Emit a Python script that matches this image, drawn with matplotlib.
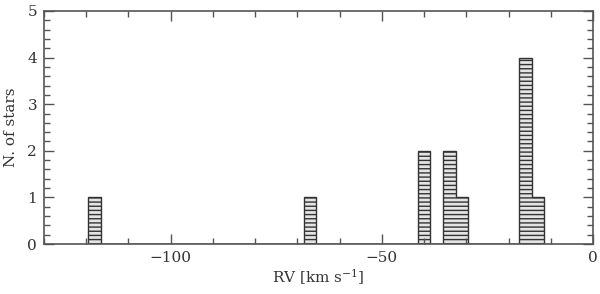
import numpy as np
import matplotlib
matplotlib.use("Agg")
import matplotlib.pyplot as plt
from matplotlib.ticker import MultipleLocator

# Radial velocities of stars (km/s)
rv_values = [-118, -67, -40, -40, -34, -34, -31, -16, -16, -16, -16, -13]
bin_start = -119.5
bin_stop = -11.5
bin_width = 3

x_limits = (-130, 0)
y_limits = (0, 5)
x_label = "RV [km s$^{-1}$]"
y_label = "N. of stars"

plt.rcParams['font.family'] = ['DejaVu Serif']
plt.rcParams['mathtext.fontset'] = 'dejavuserif'
plt.rcParams['hatch.linewidth'] = 1.0
plt.rcParams['hatch.color'] = '#222222'

fig = plt.figure(figsize=(6.0, 2.94), dpi=100)
ax = fig.add_axes([0.0733, 0.170, 0.915, 0.7926])

edges = np.arange(bin_start, bin_stop + bin_width / 2, bin_width)
ax.hist(rv_values, bins=edges, histtype='stepfilled', facecolor='#e4e4e4',
        edgecolor='#333333', hatch='----', linewidth=1.0)

ax.set_xlim(*x_limits)
ax.set_ylim(*y_limits)
ax.xaxis.set_major_locator(MultipleLocator(50))
ax.xaxis.set_minor_locator(MultipleLocator(10))
ax.yaxis.set_major_locator(MultipleLocator(1))
ax.yaxis.set_minor_locator(MultipleLocator(0.2))

spine_col = '#555555'
text_col = '#333333'
for s in ax.spines.values():
    s.set_color(spine_col)
    s.set_linewidth(1.2)
ax.tick_params(which='both', direction='in', top=True, right=True,
               color=spine_col, labelcolor=text_col, labelsize=11)
ax.tick_params(which='major', length=7.5, width=1.0)
ax.tick_params(which='minor', length=4, width=1.0)
ax.tick_params(axis='x', which='major', pad=5)
ax.tick_params(axis='y', which='major', pad=5)

ax.set_xlabel(x_label, fontsize=11, color=text_col, labelpad=2)
ax.set_ylabel(y_label, fontsize=11, color=text_col, labelpad=7)

fig.savefig("out.png", dpi=100)
